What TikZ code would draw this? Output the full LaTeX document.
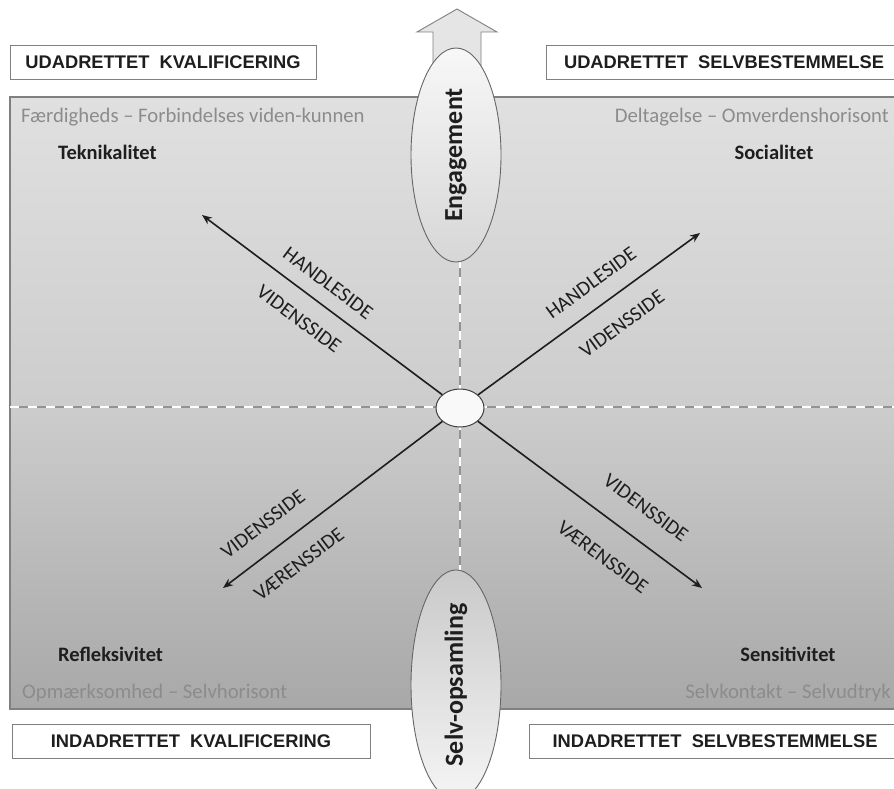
\documentclass[tikz,border=0pt]{standalone}
\usepackage{fontspec}
\setmainfont{Carlito}
\newfontfamily\arialfont{Liberation Sans}
\usetikzlibrary{shapes.geometric,arrows.meta}
\definecolor{bgtop}{RGB}{224,224,224}
\definecolor{bgmid}{RGB}{205,205,205}
\definecolor{bgbot}{RGB}{168,168,168}
\definecolor{edgec}{RGB}{128,128,128}
\definecolor{subc}{RGB}{140,140,140}
\definecolor{ink}{RGB}{30,30,30}
\begin{document}
\begin{tikzpicture}[x=1pt,y=-1pt,
  titlebox/.style={draw=edgec, fill=white, line width=0.9pt, inner sep=0,
    font=\arialfont\bfseries\fontsize{18.3}{20}\selectfont, text=ink, minimum height=34pt},
  subtxt/.style={font=\fontsize{20.7}{24}\selectfont, text=subc, inner sep=0},
  headtxt/.style={font=\bfseries\fontsize{20.5}{24}\selectfont, text=ink, inner sep=0},
  sidetxt/.style={font=\fontsize{20.5}{24}\selectfont, text=ink, inner sep=0},
  arr/.style={draw=ink, line width=1.6pt, -{Stealth[length=10pt,width=8pt]}},
  bigell/.style={ellipse, draw=edgec!80!black, line width=0.9pt, minimum width=90pt,
    inner sep=0, font=\bfseries\fontsize{26}{30}\selectfont, text=ink},
  axisbase/.style={draw=edgec!85, line width=2.6pt},
  axisdash/.style={draw=white, line width=1.6pt, dash pattern=on 9pt off 9pt},
]
\useasboundingbox (0,0) rectangle (894,789);
\fill[white] (0,0) rectangle (894,789);
\clip (0,0) rectangle (894,789);

% main panel
\path[top color=bgtop, bottom color=bgbot, middle color=bgmid, draw=edgec, line width=1.3pt]
  (10,97) rectangle (905,709);

% axes
\draw[axisbase] (10,407) -- (905,407);
\draw[axisdash] (10,407) -- (905,407);
\draw[axisbase] (460,97) -- (460,709);
\draw[axisdash] (460,97) -- (460,709);

% centre
\node[ellipse, draw=ink!85, fill=white!95!gray, line width=1pt, minimum width=48pt,
  minimum height=38pt, inner sep=0] (c) at (460,408) {};
\coordinate (tl) at (202,215);
\coordinate (tr) at (700,233);
\coordinate (bl) at (223,588);
\coordinate (br) at (702,588);
\draw[arr] (c) -- (tl);
\draw[arr] (c) -- (tr);
\draw[arr] (c) -- (bl);
\draw[arr] (c) -- (br);

% arrow labels
\node[sidetxt, rotate=-36.8] (l1) at (328,283) {HANDLESIDE};
\node[sidetxt, rotate=-36.8] (l2) at (299,319) {VIDENSSIDE};
\node[sidetxt, rotate=36.1] (l3) at (591,283) {HANDLESIDE};
\node[sidetxt, rotate=36.1] (l4) at (622,324) {VIDENSSIDE};
\node[sidetxt, rotate=37.2] (l5) at (263,524) {VIDENSSIDE};
\node[sidetxt, rotate=37.2] (l6) at (299,564) {VÆRENSSIDE};
\node[sidetxt, rotate=-36.6] (l7) at (646,508) {VIDENSSIDE};
\node[sidetxt, rotate=-36.6] (l8) at (603,557) {VÆRENSSIDE};

% up arrow
\draw[fill=bgtop!85!white, draw=edgec, line width=0.9pt, line join=miter]
  (457,9) -- (497,32) -- (481,32) -- (481,130) -- (433,130) -- (433,32) -- (417,32) -- cycle;

% vertical ellipses
\node[bigell, minimum height=214pt, top color=white!94!gray, bottom color=bgtop!90!gray]
  (eng) at (456,155) {\rotatebox{90}{Engagement}};
\node[bigell, minimum height=206pt, top color=bgmid!95!gray, bottom color=white!92!gray]
  (selv) at (456,685) {\rotatebox{90}{Selv-opsamling}};

% title boxes
\node[titlebox, minimum width=306pt] (b1) at (163,62) {UDADRETTET\ \ KVALIFICERING};
\node[titlebox, minimum width=356pt] (b2) at (724,62) {UDADRETTET\ \ SELVBESTEMMELSE};
\node[titlebox, minimum width=358pt] (b3) at (191,741) {INDADRETTET\ \ KVALIFICERING};
\node[titlebox, minimum width=372pt] (b4) at (715,741) {INDADRETTET\ \ SELVBESTEMMELSE};

% quadrant texts
\node[subtxt, anchor=base west] (s1) at (21,123) {Færdigheds – Forbindelses viden-kunnen};
\node[headtxt, anchor=base west] (h1) at (58,159) {Teknikalitet};
\node[subtxt, anchor=base east] (s2) at (889,123) {Deltagelse – Omverdenshorisont};
\node[headtxt, anchor=base] (h2) at (774,159) {Socialitet};
\node[headtxt, anchor=base west] (h3) at (58,661) {Refleksivitet};
\node[subtxt, anchor=base west] (s3) at (22,698) {Opmærksomhed – Selvhorisont};
\node[headtxt, anchor=base] (h4) at (788,661) {Sensitivitet};
\node[subtxt, anchor=base east] (s4) at (891,698) {Selvkontakt – Selvudtryk};
\end{tikzpicture}
\end{document}
